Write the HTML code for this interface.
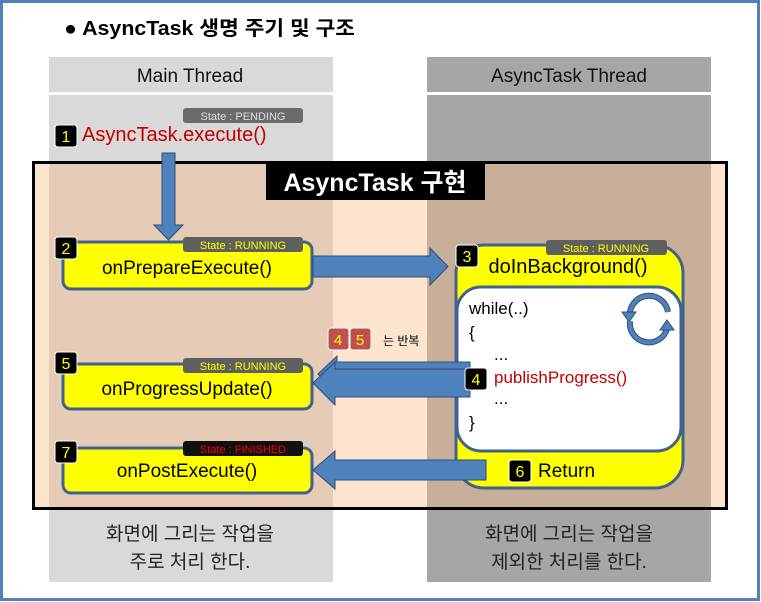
<!DOCTYPE html>
<html><head><meta charset="utf-8"><style>
html,body{margin:0;padding:0;background:#fff;}
svg{display:block;}
text{font-family:"Liberation Sans","Noto Sans CJK KR",sans-serif;}
</style></head><body>
<svg width="761" height="602" viewBox="0 0 761 602" xmlns="http://www.w3.org/2000/svg">
<rect x="1.5" y="1.5" width="757" height="598" fill="#fff" stroke="#4f81bd" stroke-width="3"/>
<text x="64" y="35" font-size="20" font-weight="bold" fill="#000" textLength="291" lengthAdjust="spacingAndGlyphs">● AsyncTask 생명 주기 및 구조</text>
<!-- columns -->
<rect x="49" y="57" width="284" height="35" fill="#d9d9d9"/>
<rect x="49" y="95" width="284" height="487" fill="#d9d9d9"/>
<rect x="427" y="57" width="284" height="35" fill="#a6a6a6"/>
<rect x="427" y="95" width="284" height="487" fill="#a6a6a6"/>
<text x="190" y="82" font-size="19" text-anchor="middle" fill="#111">Main Thread</text>
<text x="569" y="82" font-size="19" text-anchor="middle" fill="#111">AsyncTask Thread</text>
<!-- implementation box -->
<rect x="33.5" y="162.5" width="693" height="346" fill="#fce4cf" stroke="#000" stroke-width="3"/>
<rect x="49" y="164" width="284" height="343" fill="#e6ccb6"/>
<rect x="427" y="164" width="284" height="343" fill="#c8af9a"/>
<rect x="266" y="161" width="219" height="39" fill="#000"/>
<text x="375" y="191" font-size="25" font-weight="bold" fill="#fff" text-anchor="middle">AsyncTask 구현</text>
<!-- step 1 -->
<rect x="183" y="108" width="120" height="15" rx="3" fill="#6b6b6b"/>
<text x="243" y="120" font-size="11" fill="#ddd" text-anchor="middle">State : PENDING</text>
<rect x="55" y="125" width="22" height="22" rx="3" fill="#000" stroke="#fff"/>
<text x="66" y="142" font-size="16" fill="#ff0" text-anchor="middle">1</text>
<text x="82" y="141" font-size="20" fill="#c00000">AsyncTask.execute()</text>
<!-- down arrow -->
<polygon points="162,153 175,153 175,225 183,225 168.5,240 154,225 162,225" fill="#4f81bd" stroke="#2f4f75" stroke-width="1"/>
<!-- yellow boxes -->
<rect x="63" y="242" width="249" height="47" rx="8" fill="#ff0" stroke="#41628f" stroke-width="3"/>
<rect x="63" y="364" width="249" height="45" rx="8" fill="#ff0" stroke="#41628f" stroke-width="3"/>
<rect x="63" y="448" width="249" height="45" rx="8" fill="#ff0" stroke="#41628f" stroke-width="3"/>
<rect x="183" y="237" width="120" height="15" rx="3" fill="#5f5f5f"/>
<text x="243" y="249" font-size="11" fill="#ff0" text-anchor="middle">State : RUNNING</text>
<rect x="183" y="358" width="120" height="15" rx="3" fill="#5f5f5f"/>
<text x="243" y="370" font-size="11" fill="#ff0" text-anchor="middle">State : RUNNING</text>
<rect x="183" y="441" width="120" height="15" rx="3" fill="#111"/>
<text x="243" y="453" font-size="11" fill="#f00" text-anchor="middle">State : FINISHED</text>
<rect x="55" y="237" width="22" height="22" rx="3" fill="#000" stroke="#fff"/>
<text x="66" y="254" font-size="16" fill="#ff0" text-anchor="middle">2</text>
<rect x="55" y="352" width="22" height="22" rx="3" fill="#000" stroke="#fff"/>
<text x="66" y="369" font-size="16" fill="#ff0" text-anchor="middle">5</text>
<rect x="55" y="441" width="22" height="22" rx="3" fill="#000" stroke="#fff"/>
<text x="66" y="458" font-size="16" fill="#ff0" text-anchor="middle">7</text>
<text x="187" y="274" font-size="19" fill="#000" text-anchor="middle">onPrepareExecute()</text>
<text x="187" y="395" font-size="19" fill="#000" text-anchor="middle">onProgressUpdate()</text>
<text x="187" y="477" font-size="19" fill="#000" text-anchor="middle">onPostExecute()</text>
<!-- right arrow -->
<polygon points="313,256 430,256 430,248 448,266.5 430,285 430,277 313,277" fill="#4f81bd" stroke="#2f4f75" stroke-width="1"/>
<!-- async box -->
<rect x="456" y="245" width="227" height="243" rx="28" fill="#ff0" stroke="#41628f" stroke-width="3"/>
<rect x="457" y="287" width="224" height="164" rx="24" fill="#fff" stroke="#41628f" stroke-width="3"/>
<rect x="546" y="240" width="121" height="15" rx="3" fill="#5f5f5f"/>
<text x="606" y="252" font-size="11" fill="#ff0" text-anchor="middle">State : RUNNING</text>
<rect x="456" y="245" width="22" height="22" rx="3" fill="#000" stroke="#fff"/>
<text x="467" y="262" font-size="16" fill="#ff0" text-anchor="middle">3</text>
<text x="568" y="273" font-size="20" fill="#000" text-anchor="middle">doInBackground()</text>
<text x="469" y="314" font-size="17" fill="#000">while(..)</text>
<text x="469" y="338" font-size="17" fill="#000">{</text>
<text x="494" y="360" font-size="17" fill="#000">...</text>
<text x="494" y="383" font-size="17" fill="#c00000">publishProgress()</text>
<text x="494" y="404" font-size="17" fill="#000">...</text>
<text x="469" y="428" font-size="17" fill="#000">}</text>
<!-- cycle icon -->
<path d="M630,318 A18,18 0 0 1 668,312" fill="none" stroke="#2f4f75" stroke-width="6"/>
<path d="M630,318 A18,18 0 0 1 668,312" fill="none" stroke="#4f81bd" stroke-width="4"/>
<polygon points="622,312 636,312 629,322" fill="#4f81bd" stroke="#2f4f75"/>
<path d="M630,321 A19,19 0 0 0 667,329" fill="none" stroke="#2f4f75" stroke-width="6"/>
<path d="M630,321 A19,19 0 0 0 667,329" fill="none" stroke="#4f81bd" stroke-width="4"/>
<polygon points="660,330 674,330 667,320" fill="#4f81bd" stroke="#2f4f75"/>
<!-- progress arrows -->
<polygon points="470,362 337,362 337,356 318,374 337,392 337,371 470,371" fill="#4f81bd" stroke="#2f4f75" stroke-width="1"/>
<polygon points="470,369 335,369 335,362 313,383 335,405 335,397 470,397" fill="#4f81bd" stroke="#2f4f75" stroke-width="1"/>
<rect x="465" y="368" width="22" height="22" rx="3" fill="#000" stroke="#fff"/>
<text x="476" y="385" font-size="16" fill="#ff0" text-anchor="middle">4</text>
<rect x="328" y="328" width="21" height="22" rx="3" fill="#c0504d" stroke="#fff"/>
<text x="338" y="345" font-size="15" fill="#ff0" text-anchor="middle">4</text>
<rect x="350" y="328" width="21" height="22" rx="3" fill="#c0504d" stroke="#fff"/>
<text x="360" y="345" font-size="15" fill="#ff0" text-anchor="middle">5</text>
<text x="383" y="345" font-size="12" fill="#000">는 반복</text>
<!-- post arrow -->
<polygon points="486,460 335,460 335,451 313,470 335,489 335,480 486,480" fill="#4f81bd" stroke="#2f4f75" stroke-width="1"/>
<rect x="509" y="460" width="22" height="22" rx="3" fill="#000" stroke="#fff"/>
<text x="520" y="477" font-size="16" fill="#ff0" text-anchor="middle">6</text>
<text x="538" y="477" font-size="19" fill="#000">Return</text>
<!-- bottom texts -->
<text x="190" y="540" font-size="19" fill="#222" text-anchor="middle">화면에 그리는 작업을</text>
<text x="190" y="568" font-size="19" fill="#222" text-anchor="middle">주로 처리 한다.</text>
<text x="569" y="540" font-size="19" fill="#222" text-anchor="middle">화면에 그리는 작업을</text>
<text x="569" y="568" font-size="19" fill="#222" text-anchor="middle">제외한 처리를 한다.</text>
</svg>
</body></html>
